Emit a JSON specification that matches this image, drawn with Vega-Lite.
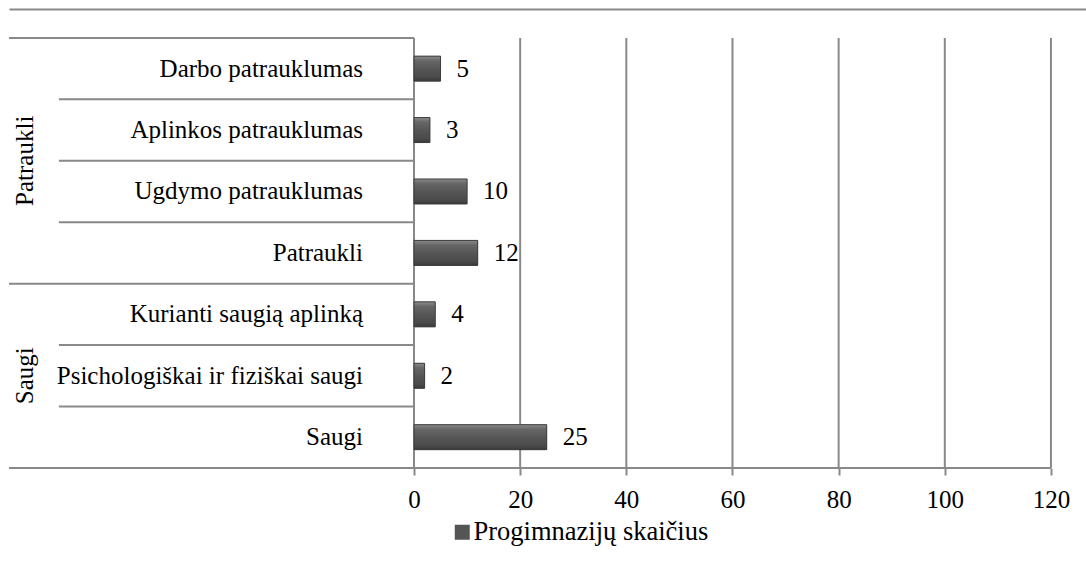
{
  "$schema": "https://vega.github.io/schema/vega-lite/v6.json",
  "width": 1077,
  "height": 555,
  "autosize": {"type": "none"},
  "padding": {"left": 9, "top": 9, "right": 0, "bottom": 0},
  "background": "white",
  "config": {"view": {"stroke": null}, "font": "Liberation Serif"},
  "datasets": {
    "counts": [
      {"label": "Darbo patrauklumas", "value": 5, "series": "Progimnazijų skaičius"},
      {"label": "Aplinkos patrauklumas", "value": 3, "series": "Progimnazijų skaičius"},
      {"label": "Ugdymo patrauklumas", "value": 10, "series": "Progimnazijų skaičius"},
      {"label": "Patraukli", "value": 12, "series": "Progimnazijų skaičius"},
      {"label": "Kurianti saugią aplinką", "value": 4, "series": "Progimnazijų skaičius"},
      {"label": "Psichologiškai ir fiziškai saugi", "value": 2, "series": "Progimnazijų skaičius"},
      {"label": "Saugi", "value": 25, "series": "Progimnazijų skaičius"}
    ],
    "grid": [
      {"v": 0, "top": "b0", "bottom": "b7"},
      {"v": 20, "top": "b0", "bottom": "b7"},
      {"v": 40, "top": "b0", "bottom": "b7"},
      {"v": 60, "top": "b0", "bottom": "b7"},
      {"v": 80, "top": "b0", "bottom": "b7"},
      {"v": 100, "top": "b0", "bottom": "b7"},
      {"v": 120, "top": "b0", "bottom": "b7"}
    ],
    "groups": [
      {"group": "Patraukli", "at": "b2"},
      {"group": "Saugi", "at": "Psichologiškai ir fiziškai saugi"}
    ],
    "longLines": [{"at": "b0"}, {"at": "b4"}],
    "shortLines": [{"at": "b1"}, {"at": "b2"}, {"at": "b3"}, {"at": "b5"}, {"at": "b6"}],
    "baseLine": [{"at": "b7"}]
  },
  "resolve": {"axis": {"x": "independent"}},
  "layer": [
    {
      "data": {"name": "counts"},
      "mark": {"type": "bar", "height": 25, "orient": "horizontal"},
      "encoding": {
        "x": {
          "field": "value", "type": "quantitative",
          "scale": {"domain": [-76.3, 126.6], "nice": false, "zero": false},
          "axis": {
            "orient": "bottom", "offset": -96, "values": [0, 20, 40, 60, 80, 100, 120],
            "grid": false, "domain": false, "ticks": true, "tickSize": 7, "tickWidth": 2,
            "tickColor": "#898989", "labelFont": "Liberation Serif", "labelFontSize": 25,
            "labelColor": "#000000", "labelPadding": 12, "labelFlush": false,
            "labelOverlap": false, "title": null
          }
        },
        "x2": {"datum": 0},
        "y": {
          "field": "label", "type": "nominal",
          "scale": {
            "type": "point",
            "domain": ["b0", "Darbo patrauklumas", "b1", "Aplinkos patrauklumas", "b2", "Ugdymo patrauklumas", "b3", "Patraukli", "b4", "Kurianti saugią aplinką", "b5", "Psichologiškai ir fiziškai saugi", "b6", "Saugi", "b7", "e1", "e2", "e3"],
            "padding": 0.535,
            "align": 0.88
          },
          "axis": {"labels": false, "ticks": false, "grid": false, "domain": true, "domainColor": "#898989", "domainWidth": 2, "title": null}
        },
        "color": {
          "field": "series", "type": "nominal",
          "scale": {"range": ["#555555"]},
          "legend": {
            "orient": "none", "legendX": 440, "legendY": 510, "title": null,
            "symbolType": "square", "symbolSize": 225, "symbolStrokeWidth": 0,
            "labelFont": "Liberation Serif", "labelFontSize": 26.5, "labelColor": "#000000",
            "labelOffset": -2, "padding": 0, "labelLimit": 400
          }
        }
      }
    },
    {
      "data": {"name": "grid"},
      "mark": {"type": "rule", "color": "#898989", "strokeWidth": 2},
      "encoding": {
        "x": {"field": "v", "type": "quantitative",
          "axis": {"orient": "top", "labels": false, "ticks": false, "grid": false, "domain": true, "domainColor": "#898989", "domainWidth": 2, "title": null}},
        "y": {"field": "top", "type": "nominal", "axis": null},
        "y2": {"field": "bottom"}
      }
    },
    {
      "data": {"name": "longLines"},
      "mark": {"type": "rule", "color": "#898989", "strokeWidth": 2},
      "encoding": {
        "x": {"datum": -76.3, "type": "quantitative", "axis": null},
        "x2": {"datum": 0},
        "y": {"field": "at", "type": "nominal", "axis": null}
      }
    },
    {
      "data": {"name": "shortLines"},
      "mark": {"type": "rule", "color": "#898989", "strokeWidth": 2},
      "encoding": {
        "x": {"datum": -66.9, "type": "quantitative", "axis": null},
        "x2": {"datum": 0},
        "y": {"field": "at", "type": "nominal", "axis": null}
      }
    },
    {
      "data": {"name": "baseLine"},
      "mark": {"type": "rule", "color": "#898989", "strokeWidth": 2},
      "encoding": {
        "x": {"datum": -76.3, "type": "quantitative", "axis": null},
        "x2": {"datum": 120},
        "y": {"field": "at", "type": "nominal", "axis": null}
      }
    },
    {
      "data": {"name": "counts"},
      "mark": {
        "type": "bar", "height": 25, "orient": "horizontal",
        "stroke": "#3d3d3d", "strokeWidth": 1,
        "fill": {
          "gradient": "linear", "x1": 0, "y1": 0, "x2": 0, "y2": 1,
          "stops": [
            {"offset": 0, "color": "#8c8c8c"},
            {"offset": 0.18, "color": "#676767"},
            {"offset": 0.5, "color": "#565656"},
            {"offset": 0.85, "color": "#4a4a4a"},
            {"offset": 1, "color": "#383838"}
          ]
        }
      },
      "encoding": {
        "x": {"field": "value", "type": "quantitative", "axis": null},
        "x2": {"datum": 0},
        "y": {"field": "label", "type": "nominal", "axis": null}
      }
    },
    {
      "data": {"name": "counts"},
      "mark": {"type": "text", "align": "left", "baseline": "middle", "dx": 16, "font": "Liberation Serif", "fontSize": 25, "color": "#000000"},
      "encoding": {
        "x": {"field": "value", "type": "quantitative", "axis": null},
        "y": {"field": "label", "type": "nominal", "axis": null},
        "text": {"field": "value", "type": "quantitative"}
      }
    },
    {
      "data": {"name": "counts"},
      "mark": {"type": "text", "align": "right", "baseline": "middle", "dx": -51, "font": "Liberation Serif", "fontSize": 25, "color": "#000000"},
      "encoding": {
        "x": {"datum": 0, "type": "quantitative", "axis": null},
        "y": {"field": "label", "type": "nominal", "axis": null},
        "text": {"field": "label", "type": "nominal"}
      }
    },
    {
      "data": {"name": "groups"},
      "mark": {"type": "text", "align": "center", "baseline": "middle", "angle": 270, "font": "Liberation Serif", "fontSize": 25, "color": "#000000"},
      "encoding": {
        "x": {"datum": -73.2, "type": "quantitative", "axis": null},
        "y": {"field": "at", "type": "nominal", "axis": null},
        "text": {"field": "group", "type": "nominal"}
      }
    }
  ]
}
